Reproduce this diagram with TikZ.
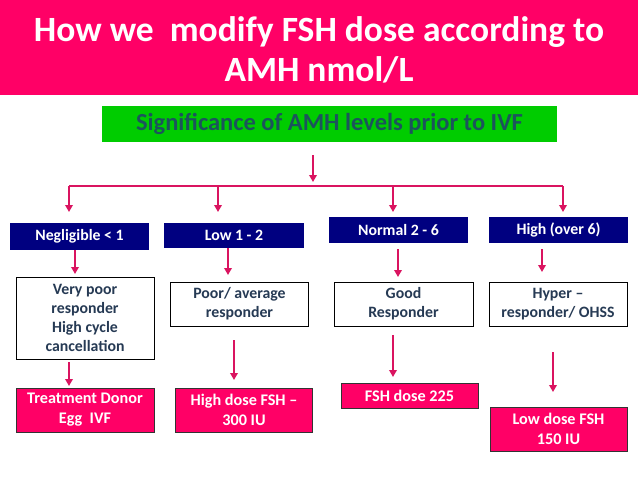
\documentclass[tikz,border=0pt]{standalone}
\usepackage{fontspec}
\setmainfont{Carlito}
\usetikzlibrary{arrows.meta}
\definecolor{bandpink}{RGB}{255,0,102}
\definecolor{arrowpink}{RGB}{218,20,96}
\definecolor{navybox}{RGB}{0,0,128}
\definecolor{greenbox}{RGB}{0,204,0}
\definecolor{greentext}{RGB}{28,84,92}
\definecolor{slatetext}{RGB}{38,58,84}
\tikzset{
  lvlbox/.style={fill=navybox, draw=none, text=white, font=\fontsize{15.8}{18}\selectfont\bfseries, inner sep=0pt, align=center},
  whitebox/.style={fill=white, draw=black, line width=0.9pt, text=slatetext, font=\fontsize{15.8}{19}\selectfont\bfseries, inner sep=0pt, align=center},
  pinkbox/.style={fill=bandpink, draw=black!80, line width=0.9pt, text=white, font=\fontsize{16.2}{20}\selectfont\bfseries, inner sep=0pt, align=center},
  arr/.style={draw=arrowpink, line width=1.8pt, -{Triangle[width=7.5pt,length=7pt]}},
  branch/.style={draw=arrowpink, line width=1.6pt}
}
\begin{document}
\begin{tikzpicture}[x=1pt,y=-1pt]
\useasboundingbox (0,0) rectangle (638,479);
\fill[white] (0,0) rectangle (638,479);
% title band
\fill[bandpink] (0,0) rectangle (638,95);
\node[text=white, font=\fontsize{35.5}{40}\selectfont\bfseries, align=center] (title) at (319,50) {How we\ \ modify FSH dose according to\\AMH nmol/L};
% green box
\node[fill=greenbox, text=greentext, font=\fontsize{24.5}{26}\selectfont\bfseries, minimum width=455pt, minimum height=36pt, inner sep=0pt] (sig) at (329.5,124) {Significance of AMH levels prior to IVF};
% level boxes
\node[lvlbox, minimum width=139pt, minimum height=27pt] (neg) at (79.5,236.5) {Negligible < 1};
\node[lvlbox, minimum width=140pt, minimum height=25pt] (low) at (234,235.5) {Low 1 - 2};
\node[lvlbox, minimum width=139pt, minimum height=26pt] (norm) at (398.5,230) {Normal 2 - 6};
\node[lvlbox, minimum width=139pt, minimum height=26pt] (high) at (558.5,230) {High (over 6)};
% response boxes
\node[whitebox, minimum width=138pt, minimum height=82pt] (vpoor) at (85,318) {Very poor\\responder\\High cycle\\cancellation};
\node[whitebox, minimum width=138pt, minimum height=44pt] (poor) at (239.5,304) {Poor/ average\\responder};
\node[whitebox, minimum width=139pt, minimum height=44pt] (good) at (403.5,304) {Good\\Responder};
\node[whitebox, minimum width=138pt, minimum height=44pt] (hyper) at (558,304) {Hyper --\\responder/ OHSS};
% dose boxes
\node[pinkbox, minimum width=138pt, minimum height=44pt] (treat) at (85,410) {Treatment Donor\\Egg\ \ IVF};
\node[pinkbox, minimum width=137pt, minimum height=44pt] (hdose) at (244,410) {High dose FSH --\\300 IU};
\node[pinkbox, minimum width=137pt, minimum height=25pt] (fsh) at (409.5,395.5) {FSH dose 225};
\node[pinkbox, minimum width=137pt, minimum height=44pt] (ldose) at (558.5,429) {Low dose FSH\\150 IU};
% connectors
\coordinate (s0) at (313,155);
\coordinate (s1) at (313,182);
\draw[arr] (s0) -- (s1);
\coordinate (bl) at (69,186);
\coordinate (br) at (563,186);
\draw[branch] (bl) -- (br);
\draw[arr] (bl) -- (69,212);
\draw[arr] (218,186) -- (218,212);
\draw[arr] (393,186) -- (393,212);
\draw[arr] (br) -- (563,212);
\draw[arr] (75,250) -- (75,274);
\draw[arr] (228,248) -- (228,275);
\draw[arr] (398,249) -- (398,277);
\draw[arr] (542,249) -- (542,272);
\draw[arr] (69,362) -- (69,386);
\draw[arr] (234,340) -- (234,380);
\draw[arr] (393,335) -- (393,377);
\draw[arr] (553,352) -- (553,392);
\end{tikzpicture}
\end{document}
